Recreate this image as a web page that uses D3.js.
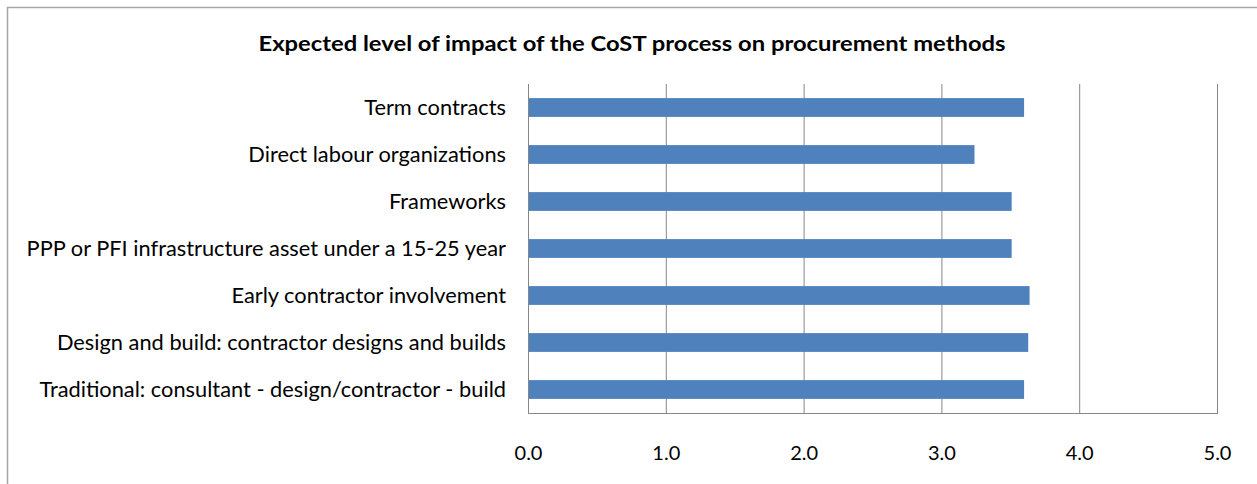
<!DOCTYPE html>
<html>
<head>
<meta charset="utf-8">
<script src="https://cdn.jsdelivr.net/npm/d3@7"></script>
<style>
  html, body { margin: 0; padding: 0; background: #fff; }
  svg { display: block; }
</style>
</head>
<body>
<svg id="chart" width="1257" height="484"></svg>
<script>
// Procurement methods, listed top to bottom
const categories = [
  "Term contracts",
  "Direct labour organizations",
  "Frameworks",
  "PPP or PFI infrastructure asset under a 15-25 year ",
  "Early contractor involvement",
  "Design and build: contractor designs and builds",
  "Traditional: consultant - design/contractor - build"
];
// Mean expected impact score
const values = [3.60, 3.24, 3.51, 3.51, 3.64, 3.63, 3.60];
const tickValues = [0, 1, 2, 3, 4, 5];
const titleText = "Expected level of impact of the CoST process on procurement methods";

const svg = d3.select("#chart");
const W = 1257, H = 484;
const fontFamily = "Lato, 'Open Sans', sans-serif";

// outer chart frame
svg.append("rect")
  .attr("x", 7.5).attr("y", 7.5)
  .attr("width", W + 10).attr("height", H + 10)
  .attr("fill", "#fff")
  .attr("stroke", "#a6a6a6").attr("stroke-width", 1.5);

const plot = { left: 528, right: 1217, top: 84, bottom: 413 };

const x = d3.scaleLinear().domain([0, 5]).range([plot.left, plot.right]);
const y = d3.scaleBand().domain(categories).range([plot.top, plot.bottom]).paddingInner(0.6).paddingOuter(0.3);

// vertical gridlines
svg.append("g")
  .selectAll("line")
  .data(tickValues)
  .join("line")
  .attr("x1", d => x(d) + 0.5).attr("x2", d => x(d) + 0.5)
  .attr("y1", plot.top).attr("y2", plot.bottom)
  .attr("stroke", "#868686").attr("stroke-width", 1);

// bars
svg.append("g")
  .selectAll("rect")
  .data(values)
  .join("rect")
  .attr("x", x(0) + 1)
  .attr("y", (d, i) => y(categories[i]))
  .attr("width", d => x(d) - x(0) - 1)
  .attr("height", y.bandwidth())
  .attr("fill", "#4f81bd");

// bottom axis line
svg.append("line")
  .attr("x1", plot.left).attr("x2", plot.right + 1)
  .attr("y1", plot.bottom + 0.5).attr("y2", plot.bottom + 0.5)
  .attr("stroke", "#868686");

// x tick labels
const xAxis = d3.axisBottom(x).tickValues(tickValues).tickFormat(d3.format(".1f")).tickSize(0).tickPadding(0);
const gx = svg.append("g").attr("transform", `translate(0, ${plot.bottom + 47})`).call(xAxis);
gx.select(".domain").remove();
gx.selectAll("text")
  .attr("font-family", fontFamily).attr("font-size", 20).attr("fill", "#000")
  .attr("dy", "0");

// category labels
const yAxis = d3.axisLeft(y).tickSize(0).tickPadding(0);
const gy = svg.append("g").attr("transform", `translate(${plot.left - 22}, 0)`).call(yAxis);
gy.select(".domain").remove();
gy.selectAll("text")
  .attr("font-family", fontFamily).attr("font-size", 21.8).attr("fill", "#000")
  .attr("dy", "0.34em");

// title
svg.append("text")
  .attr("x", 632).attr("y", 51)
  .attr("text-anchor", "middle")
  .attr("font-family", fontFamily).attr("font-weight", "bold").attr("font-size", 21)
  .attr("textLength", 747).attr("lengthAdjust", "spacingAndGlyphs")
  .attr("fill", "#000")
  .text(titleText);
</script>
</body>
</html>
